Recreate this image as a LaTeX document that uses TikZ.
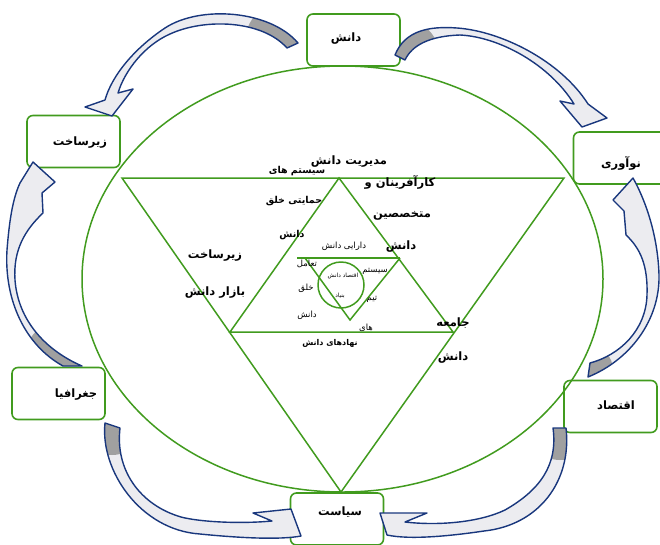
\documentclass[tikz,border=0pt]{standalone}
\usepackage{fontspec}
\usetikzlibrary{shapes.geometric}
\newfontfamily\prsfont[Script=Arabic]{DejaVu Sans}
\TeXXeTstate=1
\newcommand\prs[1]{\beginR #1\endR}
\definecolor{lgreen}{RGB}{65,155,30}
\definecolor{anavy}{RGB}{25,55,125}
\definecolor{agray}{RGB}{160,160,160}
\definecolor{ahead}{RGB}{236,236,240}
\newcommand\blockshape[3]{%
  \fill[ahead] #1;
  \begin{scope}
    \clip #1;
    \fill[agray] (#2) circle (#3);
  \end{scope}
  \draw[arrline] #1;}
\begin{document}
\begin{tikzpicture}[x=1pt,y=-1pt,
  box/.style={draw=lgreen, line width=1.6pt, rounded corners=6pt, minimum width=93pt, minimum height=52pt, inner sep=0pt},
  gl/.style={draw=lgreen, line width=1.5pt},
  boxtxt/.style={font=\prsfont\bfseries\fontsize{11.5}{12}\selectfont, inner sep=0pt},
  tbig/.style={font=\prsfont\bfseries\fontsize{11.5}{12}\selectfont, inner sep=0pt},
  tmed/.style={font=\prsfont\bfseries\fontsize{9.5}{10}\selectfont, inner sep=0pt},
  tlow/.style={font=\prsfont\bfseries\fontsize{8}{9}\selectfont, inner sep=0pt},
  tsm/.style={font=\prsfont\fontsize{8.5}{9}\selectfont, inner sep=0pt},
  txs/.style={font=\prsfont\fontsize{5.8}{6}\selectfont, inner sep=0pt},
  arrline/.style={draw=anavy, line width=1.4pt, line join=round},
]
\useasboundingbox (0,0) rectangle (660,544);

% ellipse
\node[ellipse, gl, minimum width=521pt, minimum height=426pt, inner sep=0pt] (ell) at (342.5,279) {};

% big down triangle
\coordinate (t1) at (122,178);
\coordinate (t2) at (564,178);
\coordinate (t3) at (341,492);
\draw[gl] (t1) -- (t2) -- (t3) -- cycle;
% up triangle
\coordinate (u1) at (339,178);
\coordinate (u2) at (230,332);
\coordinate (u3) at (453,332);
\draw[gl] (u1) -- (u2) -- (u3) -- cycle;
% inner small triangle
\coordinate (v0) at (297,258);
\coordinate (v1) at (305,258);
\coordinate (v2) at (400,258);
\coordinate (v3) at (350,320);
\draw[gl] (v0) -- (v2);
\draw[gl] (v1) -- (v3) -- (v2);
% inner circle
\node[circle, gl, minimum size=46pt, inner sep=0pt] (cir) at (341,285) {};

% boxes
\node[box] (dan) at (353.5,40) {};
\node[box] (zir) at (73.5,141.5) {};
\node[box] (now) at (620,158) {};
\node[box] (jog) at (58.5,393.5) {};
\node[box] (eqt) at (610.5,406.5) {};
\node[box] (siy) at (337,519) {};

\node[boxtxt] (danT) at (346,39) {\prs{دانش}};
\node[boxtxt] (zirT) at (80,143) {\prs{زیرساخت}};
\node[boxtxt] (nowT) at (621,163) {\prs{نوآوری}};
\node[boxtxt] (jogT) at (76,395) {\prs{جغرافیا}};
\node[boxtxt] (eqtT) at (616,405) {\prs{اقتصاد}};
\node[boxtxt] (siyT) at (340,512) {\prs{سیاست}};

% texts inside
\node[tmed] (x1) at (297,171) {\prs{سیستم های}};
\node[tbig] (x2) at (349,162) {\prs{مدیریت دانش}};
\node[tmed] (x3) at (294,201) {\prs{حمایتی خلق}};
\node[tmed] (x4) at (292,235) {\prs{دانش}};
\node[tbig] (x5) at (400,182) {\prs{کارآفرینان و}};
\node[tbig] (x6) at (402,216) {\prs{متخصصین}};
\node[tbig] (x7) at (401,247) {\prs{دانش}};
\node[tbig] (x8) at (215,256) {\prs{زیرساخت}};
\node[tbig] (x9) at (215,293) {\prs{بازار دانش}};
\node[tsm] (x10) at (344,246) {\prs{دارایی دانش}};
\node[tsm] (x11) at (307,264) {\prs{تعامل}};
\node[txs] (x12) at (343,276) {\prs{اقتصاد دانش}};
\node[txs] (x13) at (340,296) {\prs{بنیاد}};
\node[tsm] (x14) at (306,288) {\prs{خلق}};
\node[tsm] (x15) at (307,315) {\prs{دانش}};
\node[tsm] (x16) at (375,271) {\prs{سیستم}};
\node[tsm] (x17) at (372,299) {\prs{تیم}};
\node[tsm] (x18) at (366,328) {\prs{های}};
\node[tlow] (x19) at (330,343) {\prs{نهادهای دانش}};
\node[tbig] (x20) at (453,323) {\prs{جامعه}};
\node[tbig] (x21) at (453,358) {\prs{دانش}};

% curved block arrows (tail points)
\coordinate (a1s) at (292,46);
\coordinate (a2s) at (400,58);
\coordinate (a3s) at (588,370);
\coordinate (a4s) at (560,430);
\coordinate (a5s) at (112,425);
\coordinate (a6s) at (72,366);

% A1: danesh -> zirsakht
\blockshape{(298,43) .. controls (270,10) and (200,5) .. (165,28) .. controls (135,48) and (112,75) .. (105,100) -- (85,107) -- (112,116) -- (133,89) -- (118,93) .. controls (125,70) and (145,45) .. (170,34) .. controls (205,18) and (262,20) .. (287,48) -- cycle}{a1s}{48pt}
% A2: danesh -> noavari
\blockshape{(395,55) .. controls (405,30) and (430,26) .. (457,28) .. controls (500,31) and (560,60) .. (588,104) -- (607,118) -- (582,127) -- (560,101) -- (574,104) .. controls (550,65) and (500,37) .. (460,35) .. controls (430,36) and (412,45) .. (405,60) -- cycle}{a2s}{40pt}
% A3: eqtesad -> noavari
\blockshape{(633,178) -- (613,200) -- (624,211) -- (626,235) .. controls (640,248) and (648,265) .. (647,295) .. controls (646,330) and (620,355) .. (590,363) -- (588,377) .. controls (630,360) and (660,320) .. (659,275) .. controls (658,240) and (648,205) .. (633,178) -- cycle}{a3s}{25pt}
% A4: eqtesad -> siasat
\blockshape{(566,428) .. controls (572,480) and (540,525) .. (484,531) .. controls (450,536) and (410,540) .. (387,535) -- (380,513) -- (427,513) -- (405,522) .. controls (440,526) and (480,522) .. (505,510) .. controls (540,490) and (558,465) .. (553,428) -- cycle}{a4s}{30pt}
% A5: joghrafia -> siasat
\blockshape{(105,423) .. controls (100,470) and (140,530) .. (200,534) .. controls (240,538) and (280,540) .. (301,536) -- (291,509) -- (253,513) -- (272,521) .. controls (240,524) and (200,522) .. (181,517) .. controls (140,505) and (115,470) .. (120,428) -- cycle}{a5s}{30pt}
% A6: joghrafia -> zirsakht
\blockshape{(63,366) .. controls (25,345) and (4,300) .. (7,250) .. controls (9,225) and (12,200) .. (20,183) -- (33,162) -- (55,182) -- (42,193) -- (43,213) .. controls (25,230) and (13,250) .. (15,280) .. controls (18,320) and (45,350) .. (82,366) -- cycle}{a6s}{50pt}
\end{tikzpicture}
\end{document}
